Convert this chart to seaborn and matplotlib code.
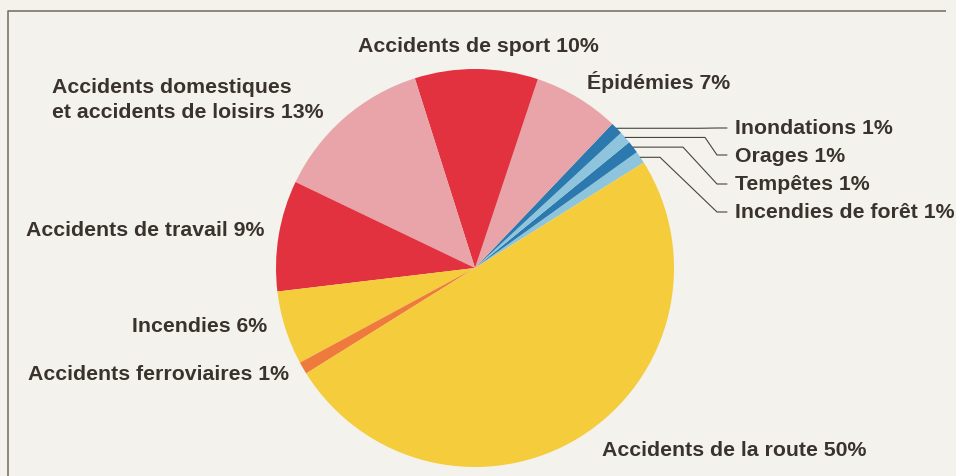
import numpy as np
import matplotlib
matplotlib.use("Agg")
import matplotlib.pyplot as plt
import seaborn as sns

# shares in %, counter-clockwise from the start angle
categories = [
    "Incendies de forêt", "Tempêtes", "Orages", "Inondations",
    "Épidémies", "Accidents de sport",
    "Accidents domestiques\net accidents de loisirs",
    "Accidents de travail", "Incendies", "Accidents ferroviaires",
    "Accidents de la route",
]
shares = [1, 1, 1, 1, 7, 10, 13, 9, 6, 1, 50]
colors = ["#8ec5dd", "#2b79ae", "#8ec5dd", "#2b79ae", "#e8a4a9", "#e2323f",
          "#e8a4a9", "#e2323f", "#f5cc3c", "#ee7a3b", "#f5cc3c"]

W, H = 956, 477
BG = "#f3f2ec"
TXT = "#3a332d"

sns.set_theme(style="white")
plt.rcParams["font.family"] = ["Liberation Sans", "DejaVu Sans"]

fig = plt.figure(figsize=(W / 100, H / 100), dpi=100, facecolor=BG,
                 edgecolor=BG, linewidth=0)
ax = fig.add_axes([0, 0, 1, 1])
ax.set_facecolor(BG)

cx, cy, r = 475, H - 269, 199
wedges, _ = ax.pie(shares, colors=colors, startangle=32, counterclock=True,
                   center=(cx, cy), radius=r,
                   wedgeprops=dict(linewidth=0))
ax.set_xlim(0, W)
ax.set_ylim(0, H)
ax.set_aspect("equal")
ax.set_frame_on(False)
ax.axis("off")

# page frame (top and left only)
ax.plot([8, W - 10], [H - 12, H - 12], color="#7d7468", lw=1.2,
        solid_capstyle="butt")
ax.plot([8, 8], [H - 12, 0], color="#7d7468", lw=1.2)

def label(i, x, y, ha="left"):
    ax.text(x, H - y, f"{categories[i]} {shares[i]}%", ha=ha, va="center",
            fontsize=15.3, fontweight="bold", color=TXT, linespacing=1.45)

# big labels (image-pixel positions)
label(5, 358, 47)
label(4, 587, 82)
label(6, 52, 100)
label(7, 26, 231)
label(8, 267, 327, ha="right")
label(9, 28, 375)
label(10, 602, 451)

# small slices with leader lines
right_y = {3: 129, 2: 156, 1: 185, 0: 213}
bend_x = {3: 700, 2: 705, 1: 683, 0: 660}
for i, ly in right_y.items():
    w = wedges[i]
    ang = np.deg2rad((w.theta1 + w.theta2) / 2)
    ex, ey = cx + r * np.cos(ang), cy + r * np.sin(ang)
    bx = bend_x[i]
    ax.plot([ex, bx, 717, 727], [ey, ey, H - ly, H - ly],
            color="#4a433c", lw=0.8, solid_joinstyle="miter")
    label(i, 735, ly)

fig.savefig("out.png", dpi=100, facecolor=BG, edgecolor=BG)
